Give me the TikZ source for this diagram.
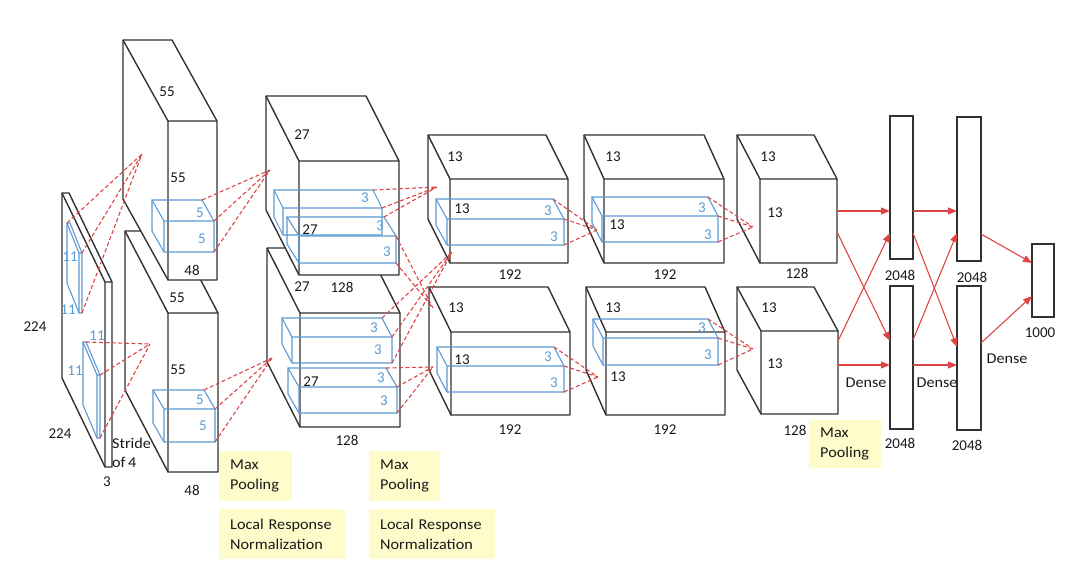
\documentclass[tikz,border=0pt]{standalone}
\usepackage{fontspec}
\setmainfont{Carlito}
\newfontfamily\wordfont[FakeStretch=1.08]{Carlito}
\usetikzlibrary{arrows.meta}

\definecolor{edge}{RGB}{50,50,50}
\definecolor{kblue}{RGB}{91,155,213}
\definecolor{lred}{RGB}{222,68,68}
\definecolor{notebg}{RGB}{255,252,204}

% front face (#3,#4)--(#5,#6), back face shifted by #7
\newcommand{\cuboid}[7]{%
  \coordinate (#1-tl) at (#3,#4);
  \coordinate (#1-tr) at (#5,#4);
  \coordinate (#1-br) at (#5,#6);
  \coordinate (#1-bl) at (#3,#6);
  \coordinate (#1-btl) at ([shift={(#7)}]#1-tl);
  \coordinate (#1-btr) at ([shift={(#7)}]#1-tr);
  \coordinate (#1-bbl) at ([shift={(#7)}]#1-bl);
  \draw[#2] (#1-btl) -- (#1-btr) -- (#1-tr) -- (#1-br) -- (#1-bl) -- (#1-bbl) -- cycle;
  \draw[#2, fill=none] (#1-btl) -- (#1-tl) -- (#1-tr) (#1-tl) -- (#1-bl);
}

\begin{document}
\begin{tikzpicture}[x=1pt, y=-1pt,
    layer/.style={draw=edge, line width=1.4pt, fill=white, line join=round},
    kern/.style={draw=kblue, line width=1.1pt},
    fcl/.style={draw=edge, line width=1.4pt, fill=white, inner sep=0pt},
    conn/.style={draw=lred, line width=1.1pt, dash pattern=on 4pt off 2.5pt},
    fc/.style={draw=lred, line width=1.1pt, -{Triangle[length=9pt,width=7pt]}},
    lbl/.style={font=\fontsize{15}{18}\selectfont, text=black!90, inner sep=0pt},
    klbl/.style={lbl, text=kblue},
    word/.style={font=\wordfont\fontsize{15}{19}\selectfont, text=black!90, inner sep=0pt},
    note/.style={fill=notebg, anchor=north west, align=left, inner xsep=11pt,
      font=\wordfont\fontsize{15}{20}\selectfont, text=black!90, minimum height=50pt}]
    \useasboundingbox (0,0) rectangle (1080,575);

    % input and conv layers
    \cuboid{in}{layer}{105}{282}{112}{467}{-43,-89}
    \cuboid{c1b}{layer}{168}{313}{218}{472}{-43,-82}
    \cuboid{c1t}{layer}{168}{121}{217}{280}{-45,-81}
    \cuboid{c2b}{layer}{300}{313}{400}{427}{-33,-65}
    \cuboid{c2t}{layer}{299}{161}{399}{275}{-33,-65}
    \cuboid{c3t}{layer}{450}{179}{568}{263}{-22,-44}
    \cuboid{c3b}{layer}{451}{332}{570}{415}{-22,-45}
    \cuboid{c4t}{layer}{604}{179}{724}{263}{-20,-44}
    \cuboid{c4b}{layer}{606}{332}{725}{415}{-20,-45}
    \cuboid{c5t}{layer}{760}{179}{837}{263}{-23,-44}
    \cuboid{c5b}{layer}{761}{331}{838}{414}{-24,-44}

    % kernels
    \cuboid{k0t}{kern}{79}{253}{82}{313}{-12,-30}
    \cuboid{k0b}{kern}{97}{375}{100}{438}{-14,-33}
    \cuboid{k1t}{kern}{164}{221}{214}{252}{-12,-21}
    \cuboid{k1b}{kern}{164}{409}{215}{442}{-11,-19}
    \cuboid{k2a}{kern}{283}{208}{382}{235}{-9,-18}
    \cuboid{k2b}{kern}{299}{236}{396}{263}{-12,-19}
    \cuboid{k2c}{kern}{292}{337}{392}{363}{-10,-19}
    \cuboid{k2d}{kern}{299}{387}{397}{413}{-11,-19}
    \cuboid{k3t}{kern}{447}{219}{564}{245}{-11,-20}
    \cuboid{k3b}{kern}{447}{366}{564}{392}{-10,-19}
    \cuboid{k4t}{kern}{602}{216}{718}{242}{-10,-19}
    \cuboid{k4b}{kern}{603}{338}{718}{365}{-10,-19}

    % dense layers
    \node[fcl, minimum width=23pt, minimum height=143pt] (d1t) at (901.5,187.5) {};
    \node[fcl, minimum width=23pt, minimum height=143pt] (d1b) at (901.5,357.5) {};
    \node[fcl, minimum width=24pt, minimum height=144pt] (d2t) at (969,189) {};
    \node[fcl, minimum width=24pt, minimum height=144pt] (d2b) at (969,358) {};
    \node[fcl, minimum width=22pt, minimum height=73pt] (out) at (1043,280.5) {};

    % receptive field tips
    \coordinate (p1) at (142,154);
    \coordinate (p2) at (150,344);
    \coordinate (p3) at (270,170);
    \coordinate (p4) at (272,358);
    \coordinate (p5) at (437,187);
    \coordinate (p6) at (433,308);
    \coordinate (p7) at (452,252);
    \coordinate (p8) at (433,367);
    \coordinate (p9) at (597,230);
    \coordinate (p10) at (598,377);
    \coordinate (p11) at (753,227);
    \coordinate (p12) at (753,349);

    \draw[conn] (k0t-btl) -- (p1) (k0t-tr) -- (p1) (k0t-br) -- (p1);
    \draw[conn] (k0b-btr) -- (p2) (k0b-tr) -- (p2) (k0b-br) -- (p2);
    \draw[conn] (k1t-btr) -- (p3) (k1t-tr) -- (p3) (k1t-br) -- (p3);
    \draw[conn] (k1b-btr) -- (p4) (k1b-tr) -- (p4) (k1b-br) -- (p4);
    \draw[conn] (k2a-btr) -- (p5) (k2a-tr) -- (p5) (k2b-btr) -- (p5);
    \draw[conn] (k2b-tr) -- (p6) (k2b-br) -- (p6);
    \draw[conn] (k2c-btr) -- (p7) (k2c-tr) -- (p7) (k2c-br) -- (p7);
    \draw[conn] (k2d-btr) -- (p8) (k2d-tr) -- (p8) (k2d-br) -- (p8);
    \draw[conn] (k3t-btr) -- (p9) (k3t-tr) -- (p9) (k3t-br) -- (p9);
    \draw[conn] (k3b-btr) -- (p10) (k3b-tr) -- (p10) (k3b-br) -- (p10);
    \draw[conn] (k4t-btr) -- (p11) (k4t-tr) -- (p11) (k4t-br) -- (p11);
    \draw[conn] (k4b-btr) -- (p12) (k4b-tr) -- (p12) (k4b-br) -- (p12);

    % ports of the dense connections
    \coordinate (c5t-o1) at (837,211);
    \coordinate (c5t-o2) at (837,232);
    \coordinate (c5b-o1) at (838,341);
    \coordinate (c5b-o2) at (838,365);
    \coordinate (d1t-i1) at (890,211);
    \coordinate (d1t-i2) at (890,233);
    \coordinate (d1b-i1) at (890,341);
    \coordinate (d1b-i2) at (890,365);
    \coordinate (d1t-o1) at (913,211);
    \coordinate (d1t-o2) at (913,233);
    \coordinate (d1b-o1) at (913,340);
    \coordinate (d1b-o2) at (913,365);
    \coordinate (d2t-i1) at (957,211);
    \coordinate (d2t-i2) at (957,233);
    \coordinate (d2b-i1) at (957,347);
    \coordinate (d2b-i2) at (957,365);
    \coordinate (d2t-o) at (981,234);
    \coordinate (d2b-o) at (981,343);
    \coordinate (out-i1) at (1032,263);
    \coordinate (out-i2) at (1032,296);

    \draw[fc] (c5t-o1) -- (d1t-i1);
    \draw[fc] (c5t-o2) -- (d1b-i1);
    \draw[fc] (c5b-o1) -- (d1t-i2);
    \draw[fc] (c5b-o2) -- (d1b-i2);
    \draw[fc] (d1t-o1) -- (d2t-i1);
    \draw[fc] (d1t-o2) -- (d2b-i1);
    \draw[fc] (d1b-o1) -- (d2t-i2);
    \draw[fc] (d1b-o2) -- (d2b-i2);
    \draw[fc] (d2t-o) -- (out-i1);
    \draw[fc] (d2b-o) -- (out-i2);

    % sizes
    \node[lbl] (in-h) at (35,327) {224};
    \node[lbl] (in-w) at (60,434) {224};
    \node[lbl] (in-d) at (107,482) {3};
    \node[word, anchor=west, align=left] (stride) at (112,453) {Stride\\of\,4};
    \node[klbl] (k0t-h) at (70,257) {11};
    \node[klbl] (k0t-w) at (68,310) {11};
    \node[klbl] (k0b-w) at (97,336) {11};
    \node[klbl] (k0b-h) at (75,371) {11};

    \node[lbl] (c1t-w) at (167,92) {55};
    \node[lbl] (c1t-h) at (178,178) {55};
    \node[lbl] (c1t-d) at (192,270) {48};
    \node[lbl] (c1b-w) at (177,298) {55};
    \node[lbl] (c1b-h) at (178,370) {55};
    \node[lbl] (c1b-d) at (192,490) {48};
    \node[klbl] (k1t-w) at (200,213) {5};
    \node[klbl] (k1t-h) at (202,239) {5};
    \node[klbl] (k1b-w) at (200,400) {5};
    \node[klbl] (k1b-h) at (203,426) {5};

    \node[lbl] (c2t-w) at (302,135) {27};
    \node[lbl] (c2t-h) at (310,230) {27};
    \node[lbl] (c2t-x) at (302,287) {27};
    \node[lbl] (c2t-d) at (342,287) {128};
    \node[lbl] (c2b-h) at (311,382) {27};
    \node[lbl] (c2b-d) at (347,440) {128};
    \node[klbl] (k2a-w) at (365,198) {3};
    \node[klbl] (k2b-w) at (380,226) {3};
    \node[klbl] (k2b-h) at (387,252) {3};
    \node[klbl] (k2c-w) at (374,328) {3};
    \node[klbl] (k2c-h) at (378,350) {3};
    \node[klbl] (k2d-w) at (381,378) {3};
    \node[klbl] (k2d-h) at (384,401) {3};

    \node[lbl] (c3t-w) at (455,157) {13};
    \node[lbl] (c3t-h) at (462,209) {13};
    \node[lbl] (c3t-d) at (510,275) {192};
    \node[lbl] (c3b-w) at (456,308) {13};
    \node[lbl] (c3b-h) at (462,360) {13};
    \node[lbl] (c3b-d) at (510,430) {192};
    \node[klbl] (k3t-w) at (548,211) {3};
    \node[klbl] (k3t-h) at (554,237) {3};
    \node[klbl] (k3b-w) at (548,357) {3};
    \node[klbl] (k3b-h) at (554,383) {3};

    \node[lbl] (c4t-w) at (613,157) {13};
    \node[lbl] (c4t-h) at (617,225) {13};
    \node[lbl] (c4t-d) at (665,275) {192};
    \node[lbl] (c4b-w) at (613,308) {13};
    \node[lbl] (c4b-h) at (618,377) {13};
    \node[lbl] (c4b-d) at (665,430) {192};
    \node[klbl] (k4t-w) at (702,208) {3};
    \node[klbl] (k4t-h) at (708,235) {3};
    \node[klbl] (k4b-w) at (702,328) {3};
    \node[klbl] (k4b-h) at (708,355) {3};

    \node[lbl] (c5t-w) at (768,157) {13};
    \node[lbl] (c5t-h) at (775,213) {13};
    \node[lbl] (c5t-d) at (797,273) {128};
    \node[lbl] (c5b-w) at (769,308) {13};
    \node[lbl] (c5b-h) at (775,364) {13};
    \node[lbl] (c5b-d) at (795,430) {128};

    \node[lbl] (d1t-n) at (900,275) {2048};
    \node[lbl] (d2t-n) at (972,277) {2048};
    \node[lbl] (out-n) at (1040,333) {1000};
    \node[lbl] (d1b-n) at (900,443) {2048};
    \node[lbl] (d2b-n) at (967,445) {2048};
    \node[word] (dense1) at (866,383) {Dense};
    \node[word] (dense2) at (937,383) {Dense};
    \node[word] (dense3) at (1007,359) {Dense};

    % notes
    \node[note, text width=51pt] (pool1) at (219,451) {Max\\Pooling};
    \node[note, text width=104pt] (lrn1) at (219,509) {Local Response\\Normalization};
    \node[note, text width=49pt] (pool2) at (369,451) {Max\\Pooling};
    \node[note, text width=104pt] (lrn2) at (369,509) {Local Response\\Normalization};
    \node[note, text width=50pt, minimum height=48pt] (pool3) at (809,420) {Max\\Pooling};
\end{tikzpicture}
\end{document}
